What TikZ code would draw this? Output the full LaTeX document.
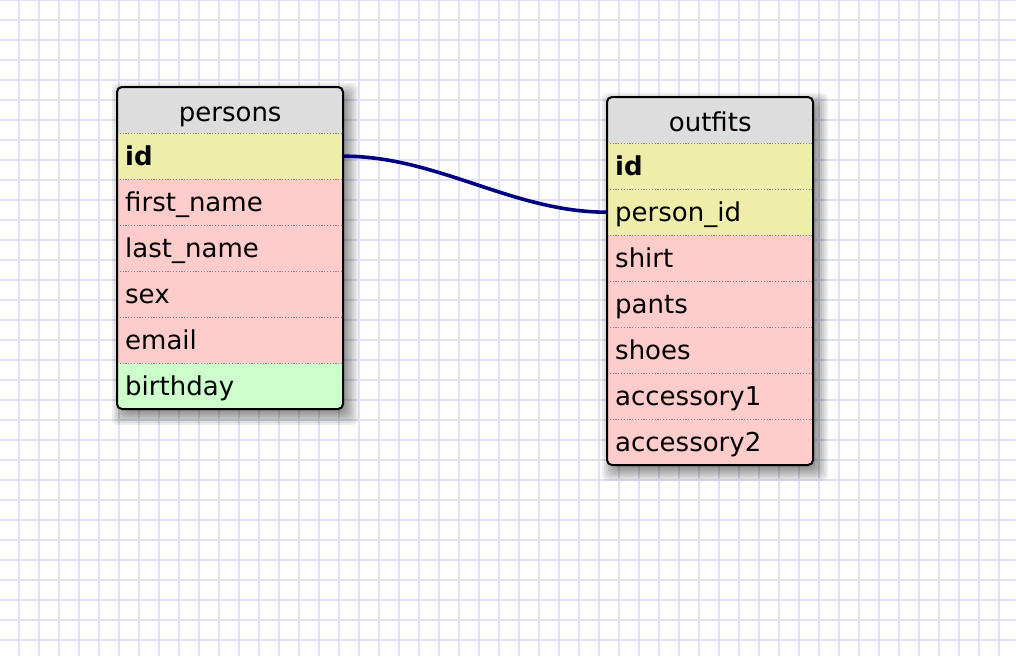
\documentclass[tikz,border=0pt]{standalone}
\usepackage{fontspec}
\setmainfont{DejaVu Sans}

\definecolor{gridline}{RGB}{224,224,247}
\definecolor{hdrgray}{RGB}{221,221,221}
\definecolor{keyyellow}{RGB}{238,238,170}
\definecolor{fieldpink}{RGB}{255,204,204}
\definecolor{datagreen}{RGB}{204,255,204}
\definecolor{relnavy}{RGB}{0,0,128}

\tikzset{
  cell/.style={anchor=north west, minimum width=#1, minimum height=46pt,
    inner xsep=8pt, inner ysep=0pt, text width=#1-16pt, align=left,
    text height=24pt, text depth=6pt,
    font=\fontsize{26}{30}\selectfont},
  headcell/.style={cell=#1, align=center, text height=26pt, text depth=2.6pt},
  keycell/.style={cell=#1, fill=keyyellow},
  fieldcell/.style={cell=#1, fill=fieldpink},
  datecell/.style={cell=#1, fill=datagreen},
  rowsep/.style={draw=gray, line width=1.2pt, dash pattern=on 1.2pt off 1.6pt},
  tableframe/.style={draw=black, line width=2pt, rounded corners=5pt},
  shadowlayer/.style={fill=black, opacity=0.065},
  relation/.style={draw=relnavy, line width=3.6pt}
}

% soft drop shadow under a table: corners given as x0,y0,x1,y1
\newcommand{\tableshadow}[4]{%
  \foreach \e in {-4,-2,...,10}
    \fill[shadowlayer, rounded corners=6pt]
      ({#1+5-\e},{#2+6-\e}) rectangle ({#3+5+\e},{#4+6+\e});
}

\begin{document}
\begin{tikzpicture}[x=1pt,y=-1pt]
  \useasboundingbox (0,0) rectangle (1016,656);
  \fill[white] (0,0) rectangle (1016,656);

  % background grid
  \foreach \gx in {-1,19,...,1019}
    \draw[gridline, line width=2pt] (\gx,0) -- (\gx,656);
  \foreach \gy in {0,20,...,660}
    \draw[gridline, line width=2pt] (0,\gy) -- (1016,\gy);

  % table: persons
  \tableshadow{117}{87}{343}{409}
  \begin{scope}
    \clip[rounded corners=5pt] (117,87) rectangle (343,409);
    \fill[hdrgray] (117,87) rectangle (343,133);
    \node[headcell=226pt] (p-head) at (117,87) {persons};
    \node[keycell=226pt]   (p-id)    at (117,133) {\textbf{id}};
    \node[fieldcell=226pt] (p-first) at (117,179) {first\_name};
    \node[fieldcell=226pt] (p-last)  at (117,225) {last\_name};
    \node[fieldcell=226pt] (p-sex)   at (117,271) {sex};
    \node[fieldcell=226pt] (p-email) at (117,317) {email};
    \node[datecell=226pt]  (p-birth) at (117,363) {birthday};
  \end{scope}
  \foreach \r in {p-head,p-id,p-first,p-last,p-sex,p-email}
    \draw[rowsep] (\r.south west) -- (\r.south east);
  \draw[tableframe] (117,87) rectangle (343,409);

  % table: outfits
  \tableshadow{607}{97}{813}{465}
  \begin{scope}
    \clip[rounded corners=5pt] (607,97) rectangle (813,465);
    \fill[hdrgray] (607,97) rectangle (813,143);
    \node[headcell=206pt] (o-head) at (607,97) {outfits};
    \node[keycell=206pt]   (o-id)    at (607,143) {\textbf{id}};
    \node[keycell=206pt]   (o-pid)   at (607,189) {person\_id};
    \node[fieldcell=206pt] (o-shirt) at (607,235) {shirt};
    \node[fieldcell=206pt] (o-pants) at (607,281) {pants};
    \node[fieldcell=206pt] (o-shoes) at (607,327) {shoes};
    \node[fieldcell=206pt] (o-acc1)  at (607,373) {accessory1};
    \node[fieldcell=206pt] (o-acc2)  at (607,419) {accessory2};
  \end{scope}
  \foreach \r in {o-head,o-id,o-pid,o-shirt,o-pants,o-shoes,o-acc1}
    \draw[rowsep] (\r.south west) -- (\r.south east);
  \draw[tableframe] (607,97) rectangle (813,465);

  % relation persons.id -> outfits.person_id
  \draw[relation] (p-id.east) to[out=0, in=180, looseness=0.9] (o-pid.west);
\end{tikzpicture}
\end{document}
